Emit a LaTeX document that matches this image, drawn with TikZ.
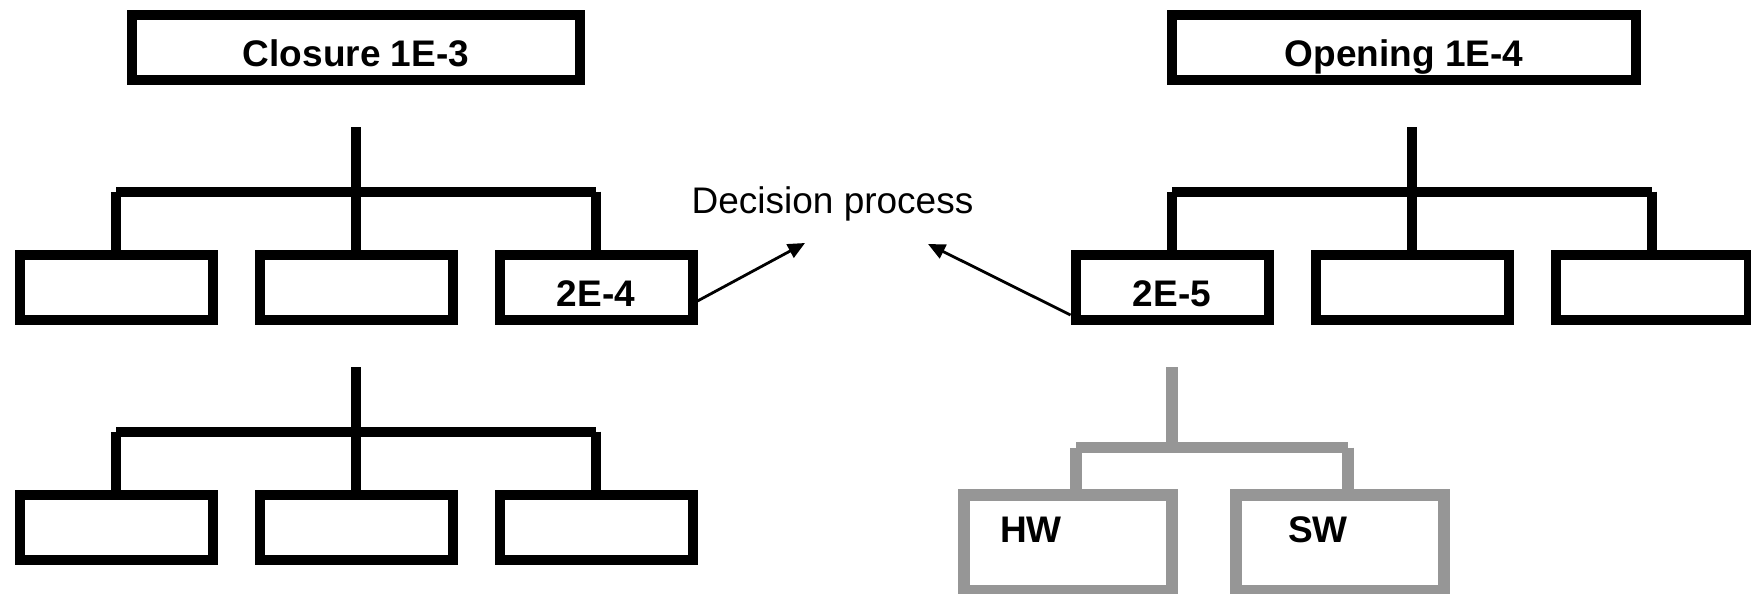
\documentclass[tikz,border=0pt]{standalone}
\usepackage{fontspec}
\setmainfont{Liberation Sans}
\usetikzlibrary{arrows.meta}
\definecolor{treegrey}{RGB}{150,150,150}
\begin{document}
\begin{tikzpicture}[x=0.5pt,y=-0.5pt,
  box/.style={draw=black,line width=5pt,rectangle,inner sep=0pt,
    minimum width=96.5pt,minimum height=32.5pt,
    font=\fontsize{18.5}{22}\selectfont\bfseries,text height=19pt,text depth=0pt},
  tline/.style={draw=black,line width=5pt},
  gline/.style={draw=treegrey,line width=5.75pt},
  gbox/.style={draw=treegrey,line width=5.75pt,rectangle,inner sep=0pt,
    minimum width=104pt,minimum height=48pt,align=left,
    font=\fontsize{18.5}{22}\selectfont\bfseries,text height=0pt,text depth=1pt},
  arr/.style={draw=black,line width=1.4pt,-{Triangle[length=8.5pt,width=7.5pt]}}
]
\useasboundingbox (0,0) rectangle (1751,594);

% top boxes
\node[box,minimum width=224pt] (closure) at (356,47.5) {Closure 1E-3};
\node[box,minimum width=232pt] (opening) at (1404,47.5) {Opening 1E-4};

% left upper tree
\node[box] (l1) at (116,287.5) {};
\node[box] (l2) at (356,287.5) {};
\node[box] (l3) at (596,287.5) {2E-4};
\coordinate (ls) at (356,127);
\coordinate (lj) at (356,191.5);
\draw[tline] (ls) -- (l2.north);
\draw[tline] (l1.north |- lj) -- (l3.north |- lj);
\draw[tline] (l1.north |- lj) -- (l1.north);
\draw[tline] (l3.north |- lj) -- (l3.north);

% right upper tree
\node[box] (r1) at (1172,287.5) {2E-5};
\node[box] (r2) at (1412,287.5) {};
\node[box] (r3) at (1652,287.5) {};
\coordinate (rs) at (1412,127);
\coordinate (rj) at (1412,191.5);
\draw[tline] (rs) -- (r2.north);
\draw[tline] (r1.north |- rj) -- (r3.north |- rj);
\draw[tline] (r1.north |- rj) -- (r1.north);
\draw[tline] (r3.north |- rj) -- (r3.north);

% left lower tree
\node[box] (b1) at (116,527.5) {};
\node[box] (b2) at (356,527.5) {};
\node[box] (b3) at (596,527.5) {};
\coordinate (bs) at (356,367);
\coordinate (bj) at (356,431.5);
\draw[tline] (bs) -- (b2.north);
\draw[tline] (b1.north |- bj) -- (b3.north |- bj);
\draw[tline] (b1.north |- bj) -- (b1.north);
\draw[tline] (b3.north |- bj) -- (b3.north);

% grey lower tree
\node[gbox,text width=68pt] (hw) at (1068,543) {HW};
\node[gbox,text width=52pt] (sw) at (1340,543) {SW};
\coordinate (gs) at (1172,367);
\coordinate (gj) at (1172,447.5);
\coordinate (gl) at (1076,447.5);
\coordinate (gr) at (1348,447.5);
\draw[gline] (gs) -- (gj);
\draw[gline] (gl) -- (gr);
\draw[gline] (gl) -- (gl |- hw.north);
\draw[gline] (gr) -- (gr |- sw.north);

% decision process
\node[font=\fontsize{18.5}{22}\selectfont,anchor=base,inner sep=0pt] (dp) at (832.5,213) {Decision process};
\coordinate (tipl) at (805,243);
\coordinate (tipr) at (928,244);
\draw[arr] ([yshift=-6.75pt]l3.east) -- (tipl);
\draw[arr] ([yshift=-13.75pt]r1.west) -- (tipr);
\end{tikzpicture}
\end{document}
